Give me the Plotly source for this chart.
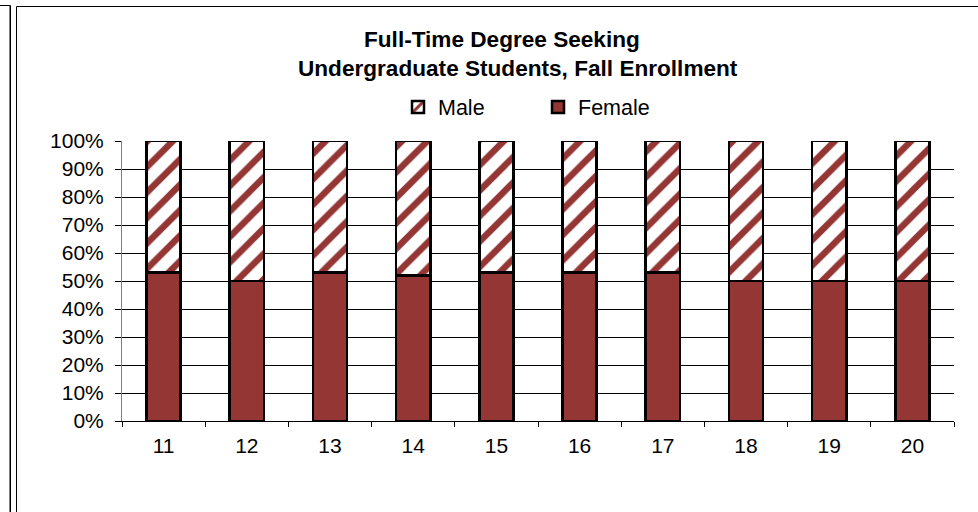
import plotly.graph_objects as go

years = ["11", "12", "13", "14", "15", "16", "17", "18", "19", "20"]
female_pct = [53, 50, 53, 52, 53, 53, 53, 50, 50, 50]
male_pct = [100 - v for v in female_pct]
y_ticks = [0, 10, 20, 30, 40, 50, 60, 70, 80, 90, 100]
y_tick_labels = [f"{v}%" for v in y_ticks]

title_line1 = "Full-Time Degree Seeking"
title_line2 = "Undergraduate Students, Fall Enrollment"

DARK_RED = "#943634"
FONT = "Liberation Sans, Arial, sans-serif"

W, H = 978, 512
L, R, T, B = 122, 954, 141, 421

def px(x):
    return (x - L) / (R - L)

def py(y):
    return (B - y) / (B - T)

fig = go.Figure()
fig.add_trace(go.Bar(
    x=years, y=female_pct, name="Female",
    marker=dict(color=DARK_RED, line=dict(color="black", width=2.5)),
))
fig.add_trace(go.Bar(
    x=years, y=male_pct, name="Male",
    marker=dict(color="white", line=dict(color="black", width=2.5),
                pattern=dict(shape="/", fgcolor=DARK_RED, bgcolor="white",
                             fgopacity=1, size=18, solidity=0.36,
                             fillmode="replace")),
))

fig.update_layout(
    width=W, height=H,
    margin=dict(l=L, r=W - R, t=T, b=H - B, pad=0),
    barmode="stack", bargap=0.59,
    plot_bgcolor="white", paper_bgcolor="white",
    font=dict(family=FONT, size=21, color="black"),
    showlegend=True,
    legend=dict(orientation="h", traceorder="reversed",
                x=px(398), xanchor="left", y=py(107), yanchor="middle",
                entrywidth=95, font=dict(size=21.5), bgcolor="rgba(0,0,0,0)"),
    xaxis=dict(type="category", showline=True, linecolor="black", linewidth=1,
               ticks="outside", tickson="boundaries", ticklen=5, tickcolor="black",
               showgrid=False, tickfont=dict(size=21), ticklabelstandoff=6),
    yaxis=dict(range=[0, 100], tickvals=y_ticks, ticktext=y_tick_labels,
               showline=True, linecolor="#808080", linewidth=1,
               ticks="outside", ticklen=6, tickcolor="black",
               showgrid=True, gridcolor="black", gridwidth=1,
               zeroline=False, tickfont=dict(size=21), ticklabelstandoff=7),
)

fig.add_annotation(text="<b>" + title_line1 + "</b>", xref="paper", yref="paper",
                   x=px(502), y=py(40), xanchor="center", yanchor="middle",
                   showarrow=False, font=dict(size=22.6, family=FONT, color="black"))
fig.add_annotation(text="<b>" + title_line2 + "</b>", xref="paper", yref="paper",
                   x=px(518), y=py(68.5), xanchor="center", yanchor="middle",
                   showarrow=False, font=dict(size=22.6, family=FONT, color="black"))

# frame lines of the embedded chart borders
line_specs = [
    (9.5, 5.5, 9.5, 512, "#808080"),
    (10.5, 5.5, 10.5, 512, "black"),
    (0, 5.5, 10.5, 5.5, "black"),
    (16.5, 6.5, 16.5, 512, "black"),
    (16.5, 6.5, 978, 6.5, "black"),
]
for x0, y0, x1, y1, c in line_specs:
    fig.add_shape(type="line", xref="paper", yref="paper",
                  x0=px(x0), y0=py(y0), x1=px(x1), y1=py(y1),
                  line=dict(color=c, width=1), layer="above")

fig.write_html("out.html",
               config={"displayModeBar": False},
               post_script="document.body.style.margin='0';document.body.style.overflow='hidden';")
